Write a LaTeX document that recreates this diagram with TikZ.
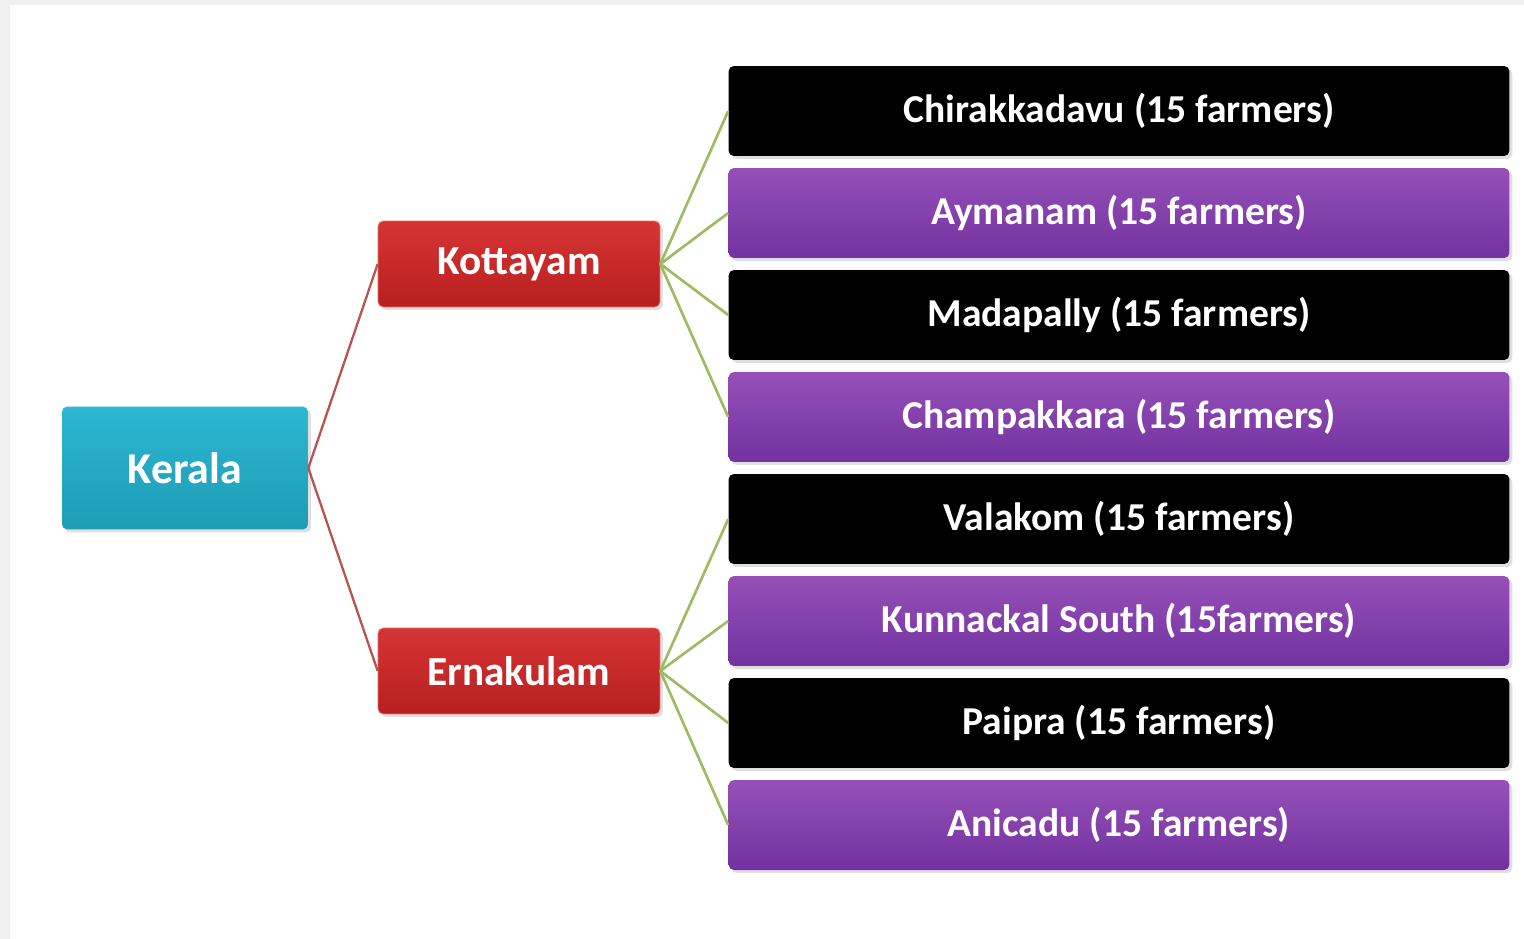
\documentclass[tikz,border=0pt]{standalone}
\usepackage{fontspec}
\setmainfont{Carlito}
\usetikzlibrary{shadows}

\definecolor{statecol}{HTML}{2CB7D2}
\definecolor{statecoldark}{HTML}{1E9CB5}
\definecolor{distcol}{HTML}{D63434}
\definecolor{distcoldark}{HTML}{B81F1F}
\definecolor{purplecol}{HTML}{9650B8}
\definecolor{purplecoldark}{HTML}{7232A0}
\definecolor{redline}{HTML}{B9534F}
\definecolor{greenline}{HTML}{9CBB62}

\tikzset{
  box/.style={rectangle, rounded corners=3pt, text=white,
    font=\bfseries\fontsize{22.5}{26}\selectfont,
    drop shadow={opacity=0.25, shadow xshift=0.06cm, shadow yshift=-0.06cm}},
  state/.style={box, minimum width=4.92cm, minimum height=2.46cm,
    top color=statecol, bottom color=statecoldark,
    font=\bfseries\fontsize{25}{29}\selectfont},
  district/.style={box, minimum width=5.64cm, minimum height=1.72cm,
    top color=distcol, bottom color=distcoldark, draw=distcol!70!white, thin,
    font=\bfseries\fontsize{23.5}{27}\selectfont},
  darkvillage/.style={box, minimum width=15.62cm, minimum height=1.8cm,
    fill=black},
  purplevillage/.style={box, minimum width=15.62cm, minimum height=1.8cm,
    top color=purplecol, bottom color=purplecoldark},
  toplink/.style={redline, line width=1.3pt},
  sublink/.style={greenline, line width=1.5pt}
}

\begin{document}
\begin{tikzpicture}[x=0.02cm,y=-0.02cm]
			\useasboundingbox (0,0) rectangle (1524,939);
			\fill[black!6] (0,0) rectangle (1524,939);
			\fill[white] (10,5) rectangle (1524,939);

			\node[state] (kerala) at (185,468) {Kerala};
			\node[district] (kottayam) at (519,264) {Kottayam};
			\node[district] (ernakulam) at (519,671) {Ernakulam};

			\begin{scope}
				\node[darkvillage] (v1) at (1119,111) {Chirakkadavu (15 farmers)};
				\node[purplevillage] (v2) at (1119,213) {Aymanam (15 farmers)};
				\node[darkvillage] (v3) at (1119,315) {Madapally (15 farmers)};
				\node[purplevillage] (v4) at (1119,417) {Champakkara (15 farmers)};
				\node[darkvillage] (v5) at (1119,519) {Valakom (15 farmers)};
				\node[purplevillage] (v6) at (1119,621) {Kunnackal South (15farmers)};
				\node[darkvillage] (v7) at (1119,723) {Paipra (15 farmers)};
				\node[purplevillage] (v8) at (1119,825) {Anicadu (15 farmers)};
			\end{scope}

			\begin{scope}
				\draw[toplink] (kerala.east) -- (kottayam.west);
				\draw[toplink] (kerala.east) -- (ernakulam.west);
				\draw[sublink] (kottayam.east) -- (v1.west);
				\draw[sublink] (kottayam.east) -- (v2.west);
				\draw[sublink] (kottayam.east) -- (v3.west);
				\draw[sublink] (kottayam.east) -- (v4.west);
				\draw[sublink] (ernakulam.east) -- (v5.west);
				\draw[sublink] (ernakulam.east) -- (v6.west);
				\draw[sublink] (ernakulam.east) -- (v7.west);
				\draw[sublink] (ernakulam.east) -- (v8.west);
			\end{scope}
		\end{tikzpicture}
\end{document}
